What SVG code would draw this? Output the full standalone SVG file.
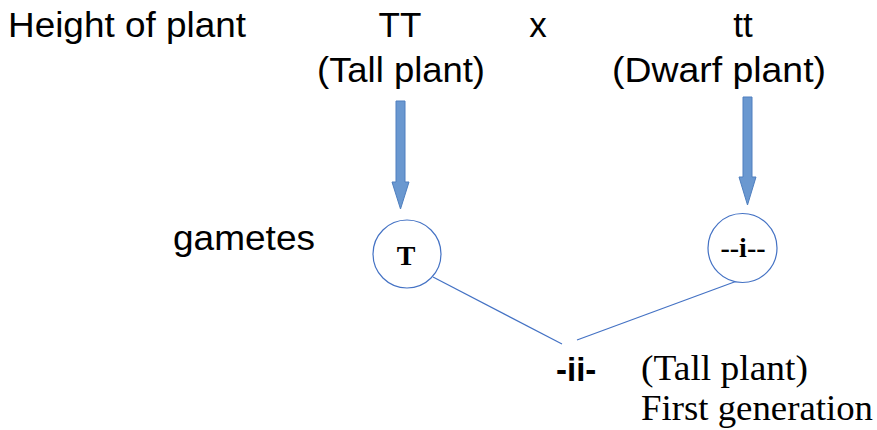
<svg xmlns="http://www.w3.org/2000/svg" width="877" height="430" viewBox="0 0 877 430">
<style>
.s{font-family:"Liberation Sans",Arial,sans-serif;font-size:35px;fill:#000}
.r{font-family:"Liberation Serif","Times New Roman",serif;font-size:36px;fill:#000}
.b{font-family:"Liberation Serif","Times New Roman",serif;font-size:28px;font-weight:bold;fill:#000}
.bs{font-family:"Liberation Sans",Arial,sans-serif;font-size:33px;font-weight:bold;fill:#000}
.arr{fill:#6a98d0;stroke:#4f7fbf;stroke-width:1}
.c{fill:#fff;stroke:#4472c4;stroke-width:1.2}
.ln{stroke:#4472c4;stroke-width:1.2;fill:none}
</style>
<g id="labels">
<text class="s" x="8" y="37" textLength="238" lengthAdjust="spacingAndGlyphs">Height of plant</text>
<text class="s" x="400" y="37" text-anchor="middle">TT</text>
<text class="s" x="538" y="37" text-anchor="middle">x</text>
<text class="s" x="743" y="37" text-anchor="middle">tt</text>
<text class="s" x="317" y="82" textLength="168" lengthAdjust="spacingAndGlyphs">(Tall plant)</text>
<text class="s" x="612" y="82" textLength="214" lengthAdjust="spacingAndGlyphs">(Dwarf plant)</text>
<text class="s" x="173" y="250" textLength="142" lengthAdjust="spacingAndGlyphs">gametes</text>
</g>
<g id="arrows">
<path class="arr" d="M396,101 H405 V182 H409 L400.5,209 L392,182 H396 Z"/>
<path class="arr" d="M743,97 H752 V177 H756 L747.5,205 L739,177 H743 Z"/>
</g>
<g id="connectors">
<line class="ln" x1="433" y1="277" x2="562" y2="344"/>
<line class="ln" x1="577" y1="340" x2="737" y2="281"/>
</g>
<g id="gamete-T">
<circle class="c" cx="407" cy="254" r="34"/>
<text class="b" x="406" y="265" text-anchor="middle">T</text>
</g>
<g id="gamete-i">
<circle class="c" cx="742.5" cy="248" r="34.5"/>
<text class="b" x="743" y="257" text-anchor="middle">--i--</text>
</g>
<g id="offspring">
<text class="bs" x="556" y="381">-ii-</text>
<text class="r" x="641" y="380" textLength="167" lengthAdjust="spacingAndGlyphs">(Tall plant)</text>
<text class="r" x="641" y="420" textLength="232" lengthAdjust="spacingAndGlyphs">First generation</text>
</g>
</svg>
